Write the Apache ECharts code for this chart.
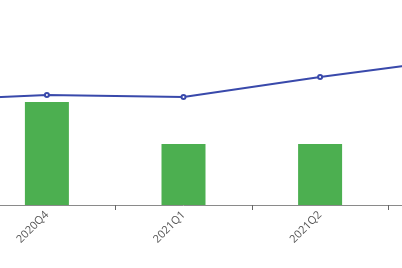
<!DOCTYPE html>
<html>
<head>
<meta charset="utf-8">
<script src="https://cdn.jsdelivr.net/npm/echarts@6/dist/echarts.min.js"></script>
<style>html,body{margin:0;padding:0;background:#fff;overflow:hidden;width:402px;height:268px;position:relative}#c{position:absolute;left:-158px;top:0;width:683px;height:268px}</style>
</head>
<body>
<div id="c"></div>
<script>
var categories = ['2020Q3', '2020Q4', '2021Q1', '2021Q2', '2021Q3'];
var barValues = [95, 103, 61, 61, 80];
var lineValues = [104, 110, 108, 128, 146];

var chart = echarts.init(document.getElementById('c'), null, {renderer: 'canvas'});
chart.setOption({
  animation: false,
  grid: {left: 0, right: 0, top: 5, bottom: 63, containLabel: false},
  xAxis: {
    type: 'category',
    data: categories,
    axisLine: {lineStyle: {color: '#8a8a8a', width: 1}},
    axisTick: {show: true, lineStyle: {color: '#666'}, length: 5},
    axisLabel: {rotate: 45, color: '#555', fontSize: 11, margin: 8, fontFamily: 'Open Sans'}
  },
  yAxis: {
    type: 'value', min: 0, max: 200, show: false
  },
  series: [
    {
      type: 'bar',
      data: barValues,
      barWidth: 44,
      itemStyle: {color: '#4caf50'}
    },
    {
      type: 'line',
      data: lineValues,
      symbol: 'emptyCircle',
      symbolSize: 4,
      lineStyle: {color: '#3949ab', width: 2},
      itemStyle: {color: '#3949ab', borderWidth: 1}
    }
  ]
});
</script>
</body>
</html>
